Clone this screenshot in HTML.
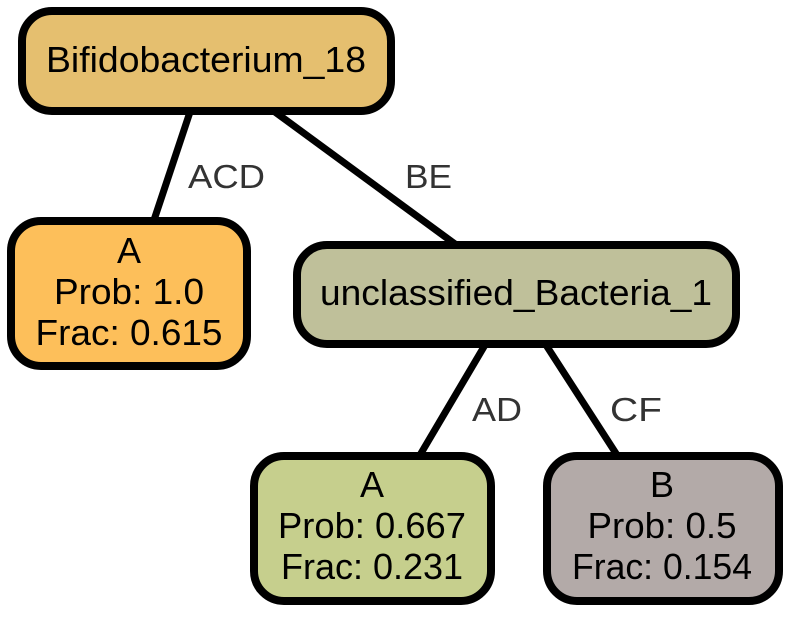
<!DOCTYPE html>
<html><head><meta charset="utf-8"><style>html,body{margin:0;padding:0;background:#fff} text{font-family:"Liberation Sans",sans-serif} .n{font-size:36px} .e{font-size:33px}</style></head>
<body>
<svg width="792" height="613" viewBox="0 0 792 613" xmlns="http://www.w3.org/2000/svg">
<g stroke="#000" stroke-width="7" fill="none">
<line x1="190" y1="112" x2="154" y2="220"/>
<line x1="275" y1="112" x2="455" y2="244"/>
<line x1="485" y1="345" x2="420" y2="455"/>
<line x1="546" y1="345" x2="617" y2="455"/>
</g>
<g fill="#333">
<text class="e" x="188" y="188" textLength="77" lengthAdjust="spacingAndGlyphs">ACD</text>
<text class="e" x="405" y="188" textLength="47" lengthAdjust="spacingAndGlyphs">BE</text>
<text class="e" x="472" y="421" textLength="50" lengthAdjust="spacingAndGlyphs">AD</text>
<text class="e" x="610" y="421" textLength="52" lengthAdjust="spacingAndGlyphs">CF</text>
</g>
<g stroke="#000" stroke-width="8">
<rect x="22" y="11" width="369" height="100" rx="30" fill="#E5BF6F"/>
<rect x="11" y="221" width="236" height="145" rx="30" fill="#FDBF5A"/>
<rect x="297" y="245" width="439" height="99" rx="30" fill="#BFC09A"/>
<rect x="254" y="456" width="237" height="145" rx="30" fill="#C6CF8D"/>
<rect x="547" y="456" width="232" height="145" rx="30" fill="#B3AAA8"/>
</g>
<g fill="#000" text-anchor="middle">
<text class="n" x="206" y="72" textLength="320" lengthAdjust="spacingAndGlyphs">Bifidobacterium_18</text>
<text class="n" x="129" y="263">A</text>
<text class="n" x="129" y="304" textLength="150" lengthAdjust="spacingAndGlyphs">Prob: 1.0</text>
<text class="n" x="129" y="345" textLength="187" lengthAdjust="spacingAndGlyphs">Frac: 0.615</text>
<text class="n" x="516" y="305" textLength="392" lengthAdjust="spacingAndGlyphs">unclassified_Bacteria_1</text>
<text class="n" x="372" y="497">A</text>
<text class="n" x="372" y="538" textLength="188" lengthAdjust="spacingAndGlyphs">Prob: 0.667</text>
<text class="n" x="372" y="579" textLength="182" lengthAdjust="spacingAndGlyphs">Frac: 0.231</text>
<text class="n" x="662" y="497">B</text>
<text class="n" x="662" y="538" textLength="149" lengthAdjust="spacingAndGlyphs">Prob: 0.5</text>
<text class="n" x="662" y="579" textLength="180" lengthAdjust="spacingAndGlyphs">Frac: 0.154</text>
</g>
</svg>
</body></html>
